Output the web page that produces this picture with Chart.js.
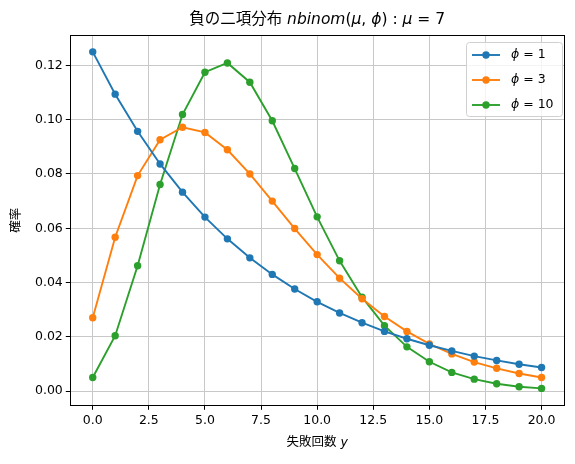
<!DOCTYPE html>
<html><head><meta charset="utf-8">
<script src="https://cdn.jsdelivr.net/npm/chart.js@4/dist/chart.umd.min.js"></script>
<style>html,body{margin:0;padding:0;background:#fff}#wrap{width:575px;height:464px}</style>
</head><body><div id="wrap"><canvas id="c" width="575" height="464"></canvas></div>
<script>
const yValues = [0,1,2,3,4,5,6,7,8,9,10,11,12,13,14,15,16,17,18,19,20];
const phi1 = [0.1250,0.1094,0.0957,0.0837,0.0733,0.0641,0.0561,0.0491,0.0430,0.0376,0.0329,0.0288,0.0252,0.0220,0.0193,0.0169,0.0148,0.0129,0.0113,0.0099,0.0087];
const phi3 = [0.0270,0.0567,0.0794,0.0926,0.0972,0.0953,0.0889,0.0800,0.0700,0.0599,0.0503,0.0416,0.0340,0.0275,0.0220,0.0174,0.0137,0.0107,0.0084,0.0065,0.0050];
const phi10 = [0.0050,0.0204,0.0462,0.0761,0.1019,0.1175,0.1209,0.1138,0.0996,0.0820,0.0642,0.0480,0.0346,0.0241,0.0163,0.0108,0.0069,0.0044,0.0027,0.0016,0.0010];
const seriesLabels = ['1','3','10'];
const xTicks = [0,2.5,5,7.5,10,12.5,15,17.5,20];
const yTicks = [0,0.02,0.04,0.06,0.08,0.10,0.12];
const colors = ['#1f77b4','#ff7f0e','#2ca02c'];

const FONT = '"DejaVu Sans","Noto Sans CJK JP",sans-serif';
const mk = (arr) => yValues.map((x,i)=>({x:x,y:arr[i]}));
const datasets = [phi1,phi3,phi10].map((arr,i)=>({
  label: 'ϕ = ' + seriesLabels[i],
  data: mk(arr),
  borderColor: colors[i], backgroundColor: colors[i],
  borderWidth: 1.9, pointRadius: 3.7, pointHoverRadius: 3.7, pointBorderWidth: 0,
  tension: 0
}));

function drawMixed(ctx, parts, cx, y, size, align) {
  let total = 0;
  parts.forEach(p => { ctx.font = (p[1] ? 'italic ' : '') + size + 'px ' + FONT; total += ctx.measureText(p[0]).width; });
  let x = align === 'center' ? cx - total/2 : cx;
  ctx.textAlign = 'left';
  parts.forEach(p => { ctx.font = (p[1] ? 'italic ' : '') + size + 'px ' + FONT; ctx.fillText(p[0], x, y); x += ctx.measureText(p[0]).width; });
}

const deco = {
  id: 'deco',
  afterDraw(chart) {
    const ctx = chart.ctx, a = chart.chartArea;
    ctx.save();
    ctx.strokeStyle = '#000'; ctx.lineWidth = 1;
    ctx.strokeRect(Math.round(a.left)+0.5, Math.round(a.top)+0.5, Math.round(a.right-a.left), Math.round(a.bottom-a.top));
    ctx.fillStyle = '#000'; ctx.textBaseline = 'middle';
    // title
    drawMixed(ctx, [['負の二項分布 ',false],['nbinom',true],['(',false],['μ',true],[', ',false],['ϕ',true],[')',false],[' : ',false],['μ',true],[' = 7',false]], (a.left+a.right)/2, 20, 15.5, 'center');
    // x label
    drawMixed(ctx, [['失敗回数 ',false],['y',true]], (a.left+a.right)/2, 443, 12.5, 'center');
    // y label
    ctx.save(); ctx.translate(17, (a.top+a.bottom)/2); ctx.rotate(-Math.PI/2);
    ctx.font = '12.5px ' + FONT; ctx.textAlign = 'center'; ctx.fillText('確率', 0, 0); ctx.restore();
    // legend
    const lx = 466, ly = 42, lw = 96, lh = 74;
    ctx.fillStyle = 'rgba(255,255,255,0.8)'; ctx.strokeStyle = '#d0d0d0';
    ctx.beginPath(); ctx.roundRect(lx+0.5, ly+0.5, lw, lh, 3); ctx.fill(); ctx.stroke();
    const rows = [55, 80, 105];
    datasets.forEach((d,i) => {
      ctx.strokeStyle = colors[i]; ctx.fillStyle = colors[i]; ctx.lineWidth = 1.9;
      ctx.beginPath(); ctx.moveTo(472, rows[i]); ctx.lineTo(500, rows[i]); ctx.stroke();
      ctx.beginPath(); ctx.arc(486, rows[i], 3.7, 0, Math.PI*2); ctx.fill();
      ctx.fillStyle = '#000';
      drawMixed(ctx, [['ϕ',true],[' = ' + seriesLabels[i], false]], 511, rows[i], 12.5, 'left');
    });
    ctx.restore();
  }
};

new Chart(document.getElementById('c'), {
  type: 'line',
  data: { datasets },
  options: {
    responsive: false, animation: false, devicePixelRatio: 1,
    layout: { padding: { top: 35, right: 11, left: 0, bottom: 0 } },
    plugins: { legend: { display: false }, title: { display: false }, tooltip: { enabled: false } },
    scales: {
      x: {
        type: 'linear', min: -1, max: 21,
        afterBuildTicks: s => { s.ticks = xTicks.map(v => ({value: v})); },
        afterFit: s => { s.height = 58.7; },
        ticks: { font: { family: FONT, size: 12.5 }, color: '#000', padding: 3, maxRotation: 0,
          callback: v => v.toFixed(1) },
        grid: { color: '#c8c8c8', lineWidth: 1, tickColor: '#000', tickLength: 4.5, drawTicks: true },
        border: { display: false }
      },
      y: {
        type: 'linear', min: -0.00523, max: 0.1312,
        afterBuildTicks: s => { s.ticks = yTicks.map(v => ({value: v})); },
        afterFit: s => { s.width = 70.3; },
        ticks: { font: { family: FONT, size: 12.5 }, color: '#000', padding: 3,
          callback: v => v.toFixed(2) },
        grid: { color: '#c8c8c8', lineWidth: 1, tickColor: '#000', tickLength: 4.5, drawTicks: true },
        border: { display: false }
      }
    }
  },
  plugins: [deco]
});
</script></body></html>
